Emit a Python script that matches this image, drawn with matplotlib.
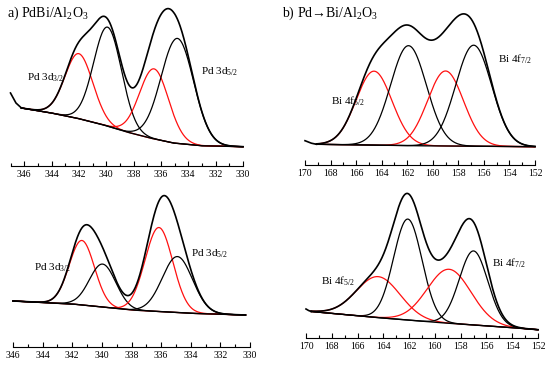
import numpy as np
import matplotlib
matplotlib.use('Agg')
import matplotlib.pyplot as plt
from matplotlib.ticker import MultipleLocator

plt.rcParams['font.family'] = ['Liberation Serif', 'DejaVu Serif']
plt.rcParams['mathtext.fontset'] = 'custom'
plt.rcParams['mathtext.rm'] = 'Liberation Serif'
plt.rcParams['mathtext.it'] = 'Liberation Serif:italic'

# ---- data (binding energy in eV, intensity in a.u.) ----
# a) PdBi/Al2O3 - upper spectrum (Pd 3d)
pd1_bg_e = [346.2, 344.2, 342.2, 340.3, 338.5, 336.8, 335.1, 333.1, 330.0]
pd1_bg_i = [58, 53.5, 48, 41.5, 34, 28, 23, 20.3, 19.3]
pd1_tail_e = [347.0, 346.6, 346.2]
pd1_tail_i = [73, 63, 58]
pd1_center = [342.0, 339.9, 336.5, 334.8]
pd1_height = [65, 99, 70, 105]
pd1_fwhm = [2.4, 2.4, 2.5, 2.8]

# a) lower spectrum (Pd 3d)
pd2_bg_e = [346.0, 342.0, 338.0, 334.0, 330.3]
pd2_bg_i = [46, 43, 37, 33.7, 32]
pd2_tail_e = []
pd2_tail_i = []
pd2_center = [341.35, 339.95, 336.15, 334.9]
pd2_height = [64.5, 43, 84, 56]
pd2_fwhm = [2.0, 2.1, 2.2, 2.4]

# b) Pd->Bi/Al2O3 - upper spectrum (Bi 4f)
bi1_bg_e = [169.1, 161.8, 152.0]
bi1_bg_i = [20.7, 19.3, 18.3]
bi1_tail_e = [170.0, 169.5, 169.1]
bi1_tail_i = [24.3, 21.8, 20.7]
bi1_center = [164.6, 161.9, 159.0, 156.8]
bi1_height = [74, 100, 75, 101]
bi1_fwhm = [3.3, 3.3, 3.3, 3.3]

# b) lower spectrum (Bi 4f)
bi2_bg_e = [169.6, 165.0, 160.0, 155.0, 152.0]
bi2_bg_i = [26.5, 21, 15.7, 11.3, 8.3]
bi2_tail_e = [170.0, 169.8, 169.6]
bi2_tail_i = [29, 27.5, 26.5]
bi2_center = [164.4, 162.1, 158.9, 157.0]
bi2_height = [41, 101, 54, 74]
bi2_fwhm = [4.0, 2.6, 4.0, 2.6]

comp_colors = ['#ff1010', 'black', '#ff1010', 'black']


def gauss(x, c, h, w):
    return h * np.exp(-4 * np.log(2) * (x - c) ** 2 / w ** 2)


def make_ax(fig, px_left, px_right, py_axis, height, xlim, ticks):
    W, H = 550, 368
    ax = fig.add_axes([px_left / W, (H - py_axis) / H,
                       (px_right - px_left) / W, height / H])
    ax.set_xlim(*xlim)
    ax.set_ylim(0, height)
    for s in ['left', 'right', 'top']:
        ax.spines[s].set_visible(False)
    ax.spines['bottom'].set_linewidth(0.8)
    ax.set_yticks([])
    ax.set_xticks(ticks)
    ax.xaxis.set_minor_locator(MultipleLocator(1))
    ax.tick_params(axis='x', which='major', direction='in', length=3.5,
                   width=0.8, labelsize=7, pad=3)
    ax.tick_params(axis='x', which='minor', direction='in', length=2,
                   width=0.8)
    ax.patch.set_alpha(0)
    return ax


def plot_spectrum(ax, bg_e, bg_i, tail_e, tail_i, centers, heights, fwhms):
    x = np.linspace(bg_e[0], bg_e[-1], 600)
    # np.interp needs ascending x
    bg = np.interp(x, bg_e[::-1], bg_i[::-1])
    total = bg.copy()
    for c, h, w, col in zip(centers, heights, fwhms, comp_colors):
        g = gauss(x, c, h, w)
        total += g
        ax.plot(x, bg + g, color=col, lw=0.9, clip_on=False)
    ax.plot(x, bg, color='black', lw=1.0, clip_on=False)
    ax.plot(x, total, color='black', lw=1.2, clip_on=False)
    if len(tail_e):
        ax.plot(tail_e, tail_i, color='black', lw=1.2, clip_on=False)


fig = plt.figure(figsize=(5.5, 3.68), dpi=100)

ax1 = make_ax(fig, 10.5, 243, 166, 166, (347, 330), np.arange(346, 329, -2))
plot_spectrum(ax1, pd1_bg_e, pd1_bg_i, pd1_tail_e, pd1_tail_i,
              pd1_center, pd1_height, pd1_fwhm)
ax1.text(345.8, 86, r'Pd 3d$_{3/2}$', fontsize=8, va='baseline')
ax1.text(333.1, 92, r'Pd 3d$_{5/2}$', fontsize=8, va='baseline')

ax2 = make_ax(fig, 305, 535, 165, 165, (170, 152), np.arange(170, 151, -2))
plot_spectrum(ax2, bi1_bg_e, bi1_bg_i, bi1_tail_e, bi1_tail_i,
              bi1_center, bi1_height, bi1_fwhm)
ax2.text(168.0, 61, r'Bi 4f$_{5/2}$', fontsize=8, va='baseline')
ax2.text(154.9, 102, r'Bi 4f$_{7/2}$', fontsize=8, va='baseline')

ax3 = make_ax(fig, 13, 250, 347, 163, (346, 330), np.arange(346, 329, -2))
plot_spectrum(ax3, pd2_bg_e, pd2_bg_i, pd2_tail_e, pd2_tail_i,
              pd2_center, pd2_height, pd2_fwhm)
ax3.text(344.6, 76, r'Pd 3d$_{3/2}$', fontsize=8, va='baseline')
ax3.text(334.0, 91, r'Pd 3d$_{5/2}$', fontsize=8, va='baseline')

ax4 = make_ax(fig, 306, 538, 338, 154, (170, 152), np.arange(170, 151, -2))
plot_spectrum(ax4, bi2_bg_e, bi2_bg_i, bi2_tail_e, bi2_tail_i,
              bi2_center, bi2_height, bi2_fwhm)
ax4.text(168.8, 54, r'Bi 4f$_{5/2}$', fontsize=8, va='baseline')
ax4.text(155.55, 72, r'Bi 4f$_{7/2}$', fontsize=8, va='baseline')

# panel titles
fig.text(7 / 550, 1 - 13 / 368, r'a) PdBi/Al$_2$O$_3$', fontsize=10, va='center')
fig.text(282 / 550, 1 - 13 / 368, 'b) Pd\u2192Bi/Al$_2$O$_3$', fontsize=10, va='center')

fig.savefig('out.png', dpi=100)
